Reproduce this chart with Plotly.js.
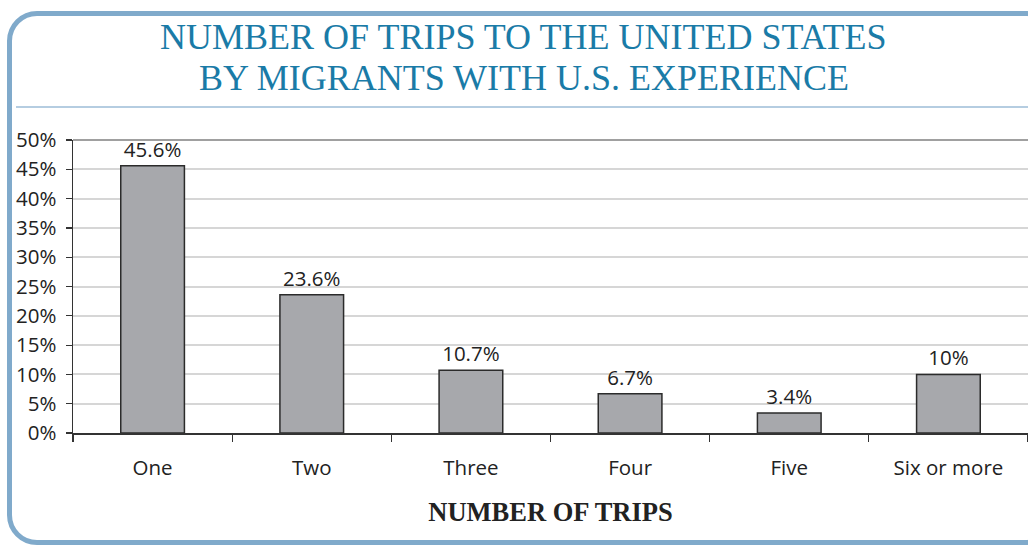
<!DOCTYPE html>
<html>
<head>
<meta charset="utf-8">
<script src="https://cdn.plot.ly/plotly-3.0.1.min.js"></script>
<style>
  html, body { margin:0; padding:0; width:1028px; height:545px; overflow:hidden; background:#fff; }
  #panel { position:absolute; left:7px; top:11px; width:1040px; height:524px; border:5px solid #80aacb; border-radius:30px; box-sizing:content-box; }
  #rule { position:absolute; left:16px; top:106px; width:1012px; height:2px; background:#b5cde1; }
  #chart { position:absolute; left:0; top:0; width:1028px; height:545px; }
</style>
</head>
<body>
<div id="panel"></div>
<div id="rule"></div>
<div id="chart"></div>
<script>
const categories = ["One", "Two", "Three", "Four", "Five", "Six or more"];
const values = [45.6, 23.6, 10.7, 6.7, 3.4, 10];
const valueLabels = ["45.6%", "23.6%", "10.7%", "6.7%", "3.4%", "10%"];
const titleLines = ["NUMBER OF TRIPS TO THE UNITED STATES", "BY MIGRANTS WITH U.S. EXPERIENCE"];
const xTitle = "NUMBER OF TRIPS";

const sans = "Open Sans, sans-serif";
const serif = "Liberation Serif, DejaVu Serif, serif";

const trace = {
  type: "bar",
  x: categories,
  y: values,
  text: valueLabels,
  textposition: "outside",
  textfont: { family: sans, size: 20.5, color: "#222" },
  cliponaxis: false,
  marker: { color: "#a7a8ac", line: { color: "#2b2b2b", width: 1.5 } },
  hoverinfo: "none"
};

const layout = {
  width: 1028,
  height: 545,
  margin: { l: 73, r: 0, t: 140, b: 112, pad: 0 },
  paper_bgcolor: "rgba(0,0,0,0)",
  plot_bgcolor: "rgba(0,0,0,0)",
  bargap: 0.6,
  showlegend: false,
  xaxis: {
    type: "category",
    tickson: "boundaries",
    ticks: "outside",
    ticklen: 7,
    tickwidth: 1.2,
    tickcolor: "#333",
    showline: true,
    linecolor: "#333",
    linewidth: 1.5,
    showgrid: false,
    tickfont: { family: sans, size: 20.5, color: "#222" },
    ticklabelstandoff: 16,
    title: { text: xTitle, font: { family: serif, size: 26.5, color: "#222", weight: "bold" }, standoff: 22 },
    automargin: false
  },
  yaxis: {
    range: [0, 50],
    dtick: 5,
    ticksuffix: "%",
    ticks: "outside",
    ticklen: 6,
    tickwidth: 1.2,
    tickcolor: "#333",
    showline: true,
    linecolor: "#333",
    linewidth: 1.5,
    showgrid: true,
    gridcolor: "#d6d6d6",
    gridwidth: 2,
    zeroline: false,
    tickfont: { family: sans, size: 20.5, color: "#222" },
    ticklabelstandoff: 5,
    automargin: false
  },
  shapes: [
    { type: "line", xref: "paper", yref: "paper", x0: 0, x1: 1, y0: 1, y1: 1, line: { color: "#a0a0a0", width: 2 } }
  ],
  annotations: [
    { text: titleLines[0], xref: "paper", yref: "paper", x: 0.5, y: 1, xanchor: "center", yanchor: "bottom", showarrow: false,
      xshift: -27, yshift: 81, font: { family: serif, size: 36, color: "#1a7ba7" } },
    { text: titleLines[1], xref: "paper", yref: "paper", x: 0.5, y: 1, xanchor: "center", yanchor: "bottom", showarrow: false,
      xshift: -27, yshift: 40, font: { family: serif, size: 36, color: "#1a7ba7" } }
  ]
};

Plotly.newPlot("chart", [trace], layout, { displayModeBar: false, staticPlot: true });
</script>
</body>
</html>
